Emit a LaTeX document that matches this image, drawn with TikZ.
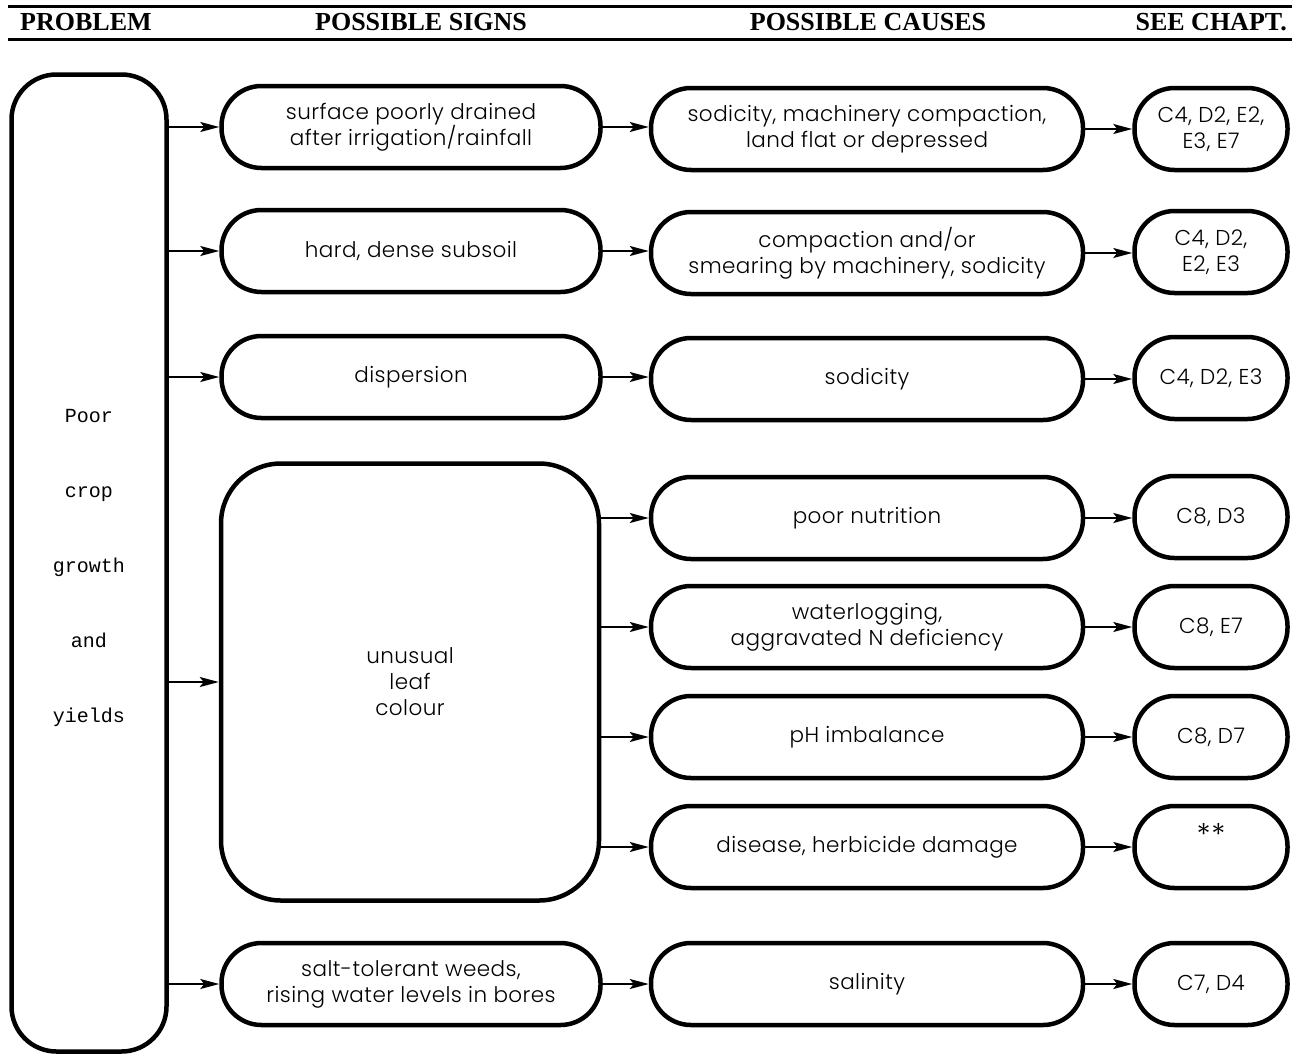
\documentclass[tikz,border=0pt]{standalone}
\usepackage{fontspec}
\usetikzlibrary{arrows.meta}
\newfontfamily\hdfont{Liberation Serif}
\newfontfamily\bxfont{Poppins}[UprightFont=* Light, LetterSpace=2]
\newfontfamily\mnfont{Liberation Mono}
\begin{document}
\begin{tikzpicture}[x=1pt,y=-1pt,
  box/.style={draw, line width=4.5pt, rounded corners=40pt, minimum height=82pt, inner sep=0pt, align=center, font=\bxfont\fontsize{21.5}{26}\selectfont},
  sign/.style={box, minimum width=379pt},
  cause/.style={box, minimum width=432pt},
  chap/.style={box, minimum width=153pt},
  arr/.style={line width=2pt, -{Stealth[length=19pt,width=10pt,inset=4pt]}},
  head/.style={font=\hdfont\bfseries\fontsize{26}{28}\selectfont, anchor=base, inner sep=0pt},
  rule/.style={line width=3pt},
]
\useasboundingbox (0,0) rectangle (1297,1057);

% header
\draw[rule] (8,7) -- (1292,7);
\draw[rule] (8,40) -- (1292,40);
\node[head, anchor=base west] (hp) at (20,31) {PROBLEM};
\node[head] (hs) at (421,31) {POSSIBLE SIGNS};
\node[head] (hc) at (868,31) {POSSIBLE CAUSES};
\node[head, anchor=base east] (hch) at (1287,31) {SEE CHAPT.};

% problem
\node[box, minimum width=155pt, minimum height=977pt, rounded corners=45pt] (prob) at (89,563) {};
\node[align=center, inner sep=0pt, font=\mnfont\fontsize{20}{75}\selectfont] (probtext) at (89,568)
      {Poor\\crop\\growth\\and\\yields};

% row 1
\node[sign]  (s1) at (411,127) {surface poorly drained\\after irrigation/rainfall};
\node[cause] (c1) at (867,129) {sodicity, machinery compaction,\\land flat or depressed};
\node[chap]  (h1) at (1211,129) {C4, D2, E2,\\E3, E7};
% row 2
\node[sign]  (s2) at (411,251) {hard, dense subsoil};
\node[cause] (c2) at (867,253) {compaction and/or\\smearing by machinery, sodicity};
\node[chap]  (h2) at (1211,252) {C4, D2,\\E2, E3};
% row 3
\node[sign]  (s3) at (411,377) {dispersion};
\node[cause] (c3) at (867,379) {sodicity};
\node[chap]  (h3) at (1211,378) {C4, D2, E3};
% leaf colour
\node[box, minimum width=378pt, minimum height=437pt, rounded corners=60pt] (leaf) at (410,682) {unusual\\leaf\\colour};
\node[cause] (c4) at (867,518) {poor nutrition};
\node[chap]  (h4) at (1211,517) {C8, D3};
\node[cause] (c5) at (867,627) {waterlogging,\\aggravated N deficiency};
\node[chap]  (h5) at (1211,627) {C8, E7};
\node[cause] (c6) at (867,737) {pH imbalance};
\node[chap]  (h6) at (1211,737) {C8, D7};
\node[cause] (c7) at (867,847) {disease, herbicide damage};
\node[chap]  (h7) at (1211,847) {\raisebox{0pt}[0pt][0pt]{\raisebox{2pt}{\fontsize{30}{30}\selectfont **}}};
% salinity
\node[sign]  (s8) at (411,984) {salt-tolerant weeds,\\rising water levels in bores};
\node[cause] (c8) at (867,984) {salinity};
\node[chap]  (h8) at (1211,984) {C7, D4};

% arrows from problem
\foreach \t in {s1,s2,s3,leaf,s8}
  \draw[arr] (prob.east |- \t) -- (\t);
% signs to causes
\foreach \a/\b in {s1/c1,s2/c2,s3/c3,s8/c8}
  \draw[arr] (\a.east) -- (\a.east -| \b.west);
\foreach \b in {c4,c5,c6,c7}
  \draw[arr] (leaf.east |- \b) -- (\b);
% causes to chapters
\foreach \a/\b in {c1/h1,c2/h2,c3/h3,c4/h4,c5/h5,c6/h6,c7/h7,c8/h8}
  \draw[arr] (\a.east) -- (\a.east -| \b.west);
\end{tikzpicture}
\end{document}
